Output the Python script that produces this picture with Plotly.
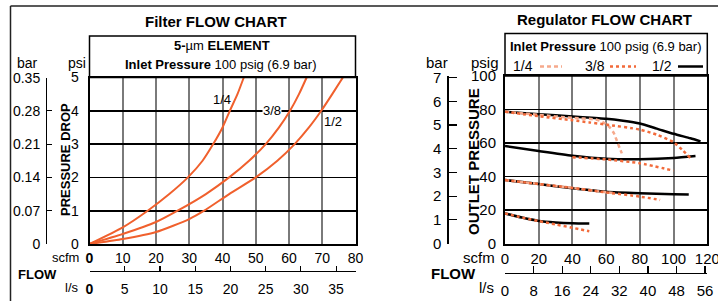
import plotly.graph_objects as go

W, H = 718, 301

# ---------------- DATA ----------------
# Filter flow chart (scfm vs psi pressure drop)
filter_flow_14 = [0, 10, 17.5, 24, 29.6, 34, 37.2, 40, 42.2, 44.5, 46.4]
filter_dp_14 = [0, 0.5, 1, 1.5, 2, 2.5, 3, 3.5, 4, 4.5, 5]
filter_flow_38 = [0, 10, 20, 26.5, 35, 42, 48, 53, 57, 60.3, 63, 65.3]
filter_dp_38 = [0, 0.3, 0.66, 1, 1.5, 2, 2.5, 3, 3.5, 4, 4.5, 5]
filter_flow_12 = [0, 10, 20, 30, 34.5, 42, 50, 56.5, 61.7, 66, 69.7, 73, 76.2]
filter_dp_12 = [0, 0.15, 0.36, 0.75, 1, 1.5, 2, 2.5, 3, 3.5, 4, 4.5, 5]
filter_labels = ["1/4", "3/8", "1/2"]
filter_label_pos = [(39.8, 4.35), (55, 4.0), (73.1, 3.67)]

# Regulator flow chart (scfm vs outlet psig)
reg12_a_flow = [0, 20, 40, 60, 70, 80, 90, 100, 110, 116]
reg12_a_psig = [78.7, 77.2, 75.8, 74.5, 73.3, 71.6, 68.6, 65.5, 62.8, 61]
reg12_b_flow = [0, 20, 40, 60, 80, 100, 113]
reg12_b_psig = [58.2, 55.2, 52.4, 50.6, 50.3, 51.0, 52.2]
reg12_c_flow = [0, 20, 40, 60, 80, 100, 109]
reg12_c_psig = [37.9, 35.5, 33.0, 30.9, 30.0, 29.4, 29.2]
reg12_d_flow = [0, 10, 20, 30, 40, 50]
reg12_d_psig = [18.0, 15.5, 13.5, 12.6, 12.1, 11.9]

reg38_a_flow = [0, 20, 40, 50, 60, 80, 90, 100, 105, 110]
reg38_a_psig = [78.7, 76.0, 73.6, 72.3, 71.0, 68.0, 65.0, 60.5, 56.0, 51.0]
reg38_b_flow = [40, 60, 80, 100]
reg38_b_psig = [51.5, 50.2, 47.9, 43.5]
reg38_c_flow = [0, 20, 40, 60, 80, 92]
reg38_c_psig = [37.9, 35.5, 33.2, 30.5, 28.0, 26.0]
reg38_d_flow = [0, 10, 20, 30, 40, 50]
reg38_d_psig = [18.0, 15.5, 13.4, 11.4, 9.4, 7.3]

reg14_a_flow = [0, 20, 40, 54, 58, 62, 64.5, 66.3, 68, 69.3]
reg14_a_psig = [78.7, 76.8, 75.0, 74.0, 72.5, 69.5, 66.0, 61.5, 57.0, 53.8]
reg14_c_flow = [0, 20, 40, 60, 66]
reg14_c_psig = [37.9, 35.5, 33.2, 30.6, 29.9]

left_scfm_ticks = [0, 10, 20, 30, 40, 50, 60, 70, 80]
left_ls_ticks = [0, 5, 10, 15, 20, 25, 30, 35]
left_psi_ticks = [0, 1, 2, 3, 4, 5]
left_bar_ticks = [0, 0.07, 0.14, 0.21, 0.28, 0.35]
left_bar_text = ["0", "0.07", "0.14", "0.21", "0.28", "0.35"]
right_scfm_ticks = [0, 20, 40, 60, 80, 100, 120]
right_ls_ticks = [0, 8, 16, 24, 32, 40, 48, 56]
right_psig_ticks = [0, 20, 40, 60, 80, 100]
right_bar_ticks = [0, 1, 2, 3, 4, 5, 6, 7]
SCFM_TO_LS = 0.4719

# ---------------- HELPERS ----------------
def fx(p):
    return p / W

def fy(p):
    return 1 - p / H

FONT = "Liberation Sans, Arial, Helvetica, sans-serif"
ORANGE = "#f0602d"
DOT = "#f26a3a"
SALMON = "#f6a98c"

fig = go.Figure()

# Filter curves
for fl, dp in [(filter_flow_14, filter_dp_14), (filter_flow_38, filter_dp_38),
               (filter_flow_12, filter_dp_12)]:
    fig.add_trace(go.Scatter(x=fl, y=dp, mode="lines", xaxis="x", yaxis="y",
                             line=dict(color=ORANGE, width=2, shape="spline", smoothing=0.6),
                             showlegend=False, hoverinfo="skip"))

# Regulator curves: solid 1/2
for fl, ps in [(reg12_a_flow, reg12_a_psig), (reg12_b_flow, reg12_b_psig),
               (reg12_c_flow, reg12_c_psig), (reg12_d_flow, reg12_d_psig)]:
    fig.add_trace(go.Scatter(x=fl, y=ps, mode="lines", xaxis="x2", yaxis="y2",
                             line=dict(color="black", width=2.5, shape="spline", smoothing=0.6),
                             showlegend=False, hoverinfo="skip"))
# dashed 1/4
for fl, ps in [(reg14_a_flow, reg14_a_psig), (reg14_c_flow, reg14_c_psig)]:
    fig.add_trace(go.Scatter(x=fl, y=ps, mode="lines", xaxis="x2", yaxis="y2",
                             line=dict(color=SALMON, width=2.5, dash="4px,3px", shape="spline", smoothing=0.6),
                             showlegend=False, hoverinfo="skip"))
# dotted 3/8
for fl, ps in [(reg38_a_flow, reg38_a_psig), (reg38_b_flow, reg38_b_psig),
               (reg38_c_flow, reg38_c_psig), (reg38_d_flow, reg38_d_psig)]:
    fig.add_trace(go.Scatter(x=fl, y=ps, mode="lines", xaxis="x2", yaxis="y2",
                             line=dict(color=DOT, width=2.5, dash="dot", shape="spline", smoothing=0.6),
                             showlegend=False, hoverinfo="skip"))

# dummy traces so secondary axes render
for xa, ya in [("x3", "y"), ("x", "y3"), ("x4", "y2"), ("x2", "y4")]:
    fig.add_trace(go.Scatter(x=[None], y=[None], xaxis=xa, yaxis=ya, mode="lines",
                             showlegend=False, hoverinfo="skip"))

tickf = dict(family=FONT, size=14, color="black")
tickf_r = dict(family=FONT, size=15, color="black")

common_grid = dict(showline=True, linecolor="black", linewidth=2, mirror=True,
                   zeroline=False, ticks="", fixedrange=True, ticklabeloverflow="allow")
sec = dict(showline=True, linecolor="black", linewidth=1.2, showgrid=False,
           zeroline=False, fixedrange=True, tickcolor="black", tickwidth=1.2,
           ticks="inside", ticklabeloverflow="allow")

fig.update_layout(
    width=W, height=H, margin=dict(l=0, r=0, t=0, b=0, autoexpand=False),
    paper_bgcolor="white", plot_bgcolor="white", showlegend=False,
    font=dict(family=FONT, color="black"),
    xaxis=dict(domain=[fx(89.5), fx(355.5)], range=[0, 80], anchor="y",
               tickvals=left_scfm_ticks,
               ticktext=["<b>0</b>"] + [str(v) for v in left_scfm_ticks[1:]],
               showgrid=True, gridcolor="#7a7a7a", gridwidth=2,
               tickfont=tickf, ticklabelstandoff=0, **common_grid),
    yaxis=dict(domain=[fy(244), fy(77.5)], range=[0, 5], anchor="x",
               tickvals=left_psi_ticks, showgrid=True, gridcolor="black", gridwidth=1.8,
               tickfont=tickf, ticklabelstandoff=6, **common_grid),
    xaxis3=dict(overlaying="x", anchor="free", position=fy(270.7), side="bottom",
                range=[0, 80 * SCFM_TO_LS], tickvals=left_ls_ticks,
                ticktext=["<b>0</b>"] + [str(v) for v in left_ls_ticks[1:]],
                ticklen=5, tickfont=tickf, ticklabelstandoff=5, **sec),
    yaxis3=dict(overlaying="y", anchor="free", position=fx(46), side="left",
                range=[0, 0.3502], tickvals=left_bar_ticks, ticktext=left_bar_text,
                ticklen=5, tickfont=tickf, ticklabelstandoff=3, **sec),
    xaxis2=dict(domain=[fx(505), fx(707.3)], range=[0, 120], anchor="y2",
                tickvals=right_scfm_ticks, showgrid=True, gridcolor="#7a7a7a", gridwidth=2,
                tickfont=tickf_r, ticklabelstandoff=0, **common_grid),
    yaxis2=dict(domain=[fy(243.5), fy(76)], range=[0, 100], anchor="x2",
                tickvals=right_psig_ticks, showgrid=True, gridcolor="black", gridwidth=1.5,
                tickfont=tickf_r, ticklabelstandoff=4, **common_grid),
    xaxis4=dict(overlaying="x2", anchor="free", position=fy(272.5), side="bottom",
                range=[0, 120 * SCFM_TO_LS], tickvals=right_ls_ticks,
                ticklen=7, tickfont=tickf_r, ticklabelstandoff=4, **sec),
    yaxis4=dict(overlaying="y2", anchor="free", position=fx(447.3), side="left",
                range=[0, 7.07], tickvals=right_bar_ticks,
                ticklen=8, tickfont=tickf_r, ticklabelstandoff=3, **sec),
)

shapes = []
# outer frame
shapes.append(dict(type="line", xref="paper", yref="paper", x0=fx(10.5), x1=fx(10.5),
                   y0=fy(6), y1=fy(301), line=dict(color="#222", width=1.5)))
shapes.append(dict(type="line", xref="paper", yref="paper", x0=fx(10.5), x1=1,
                   y0=fy(6), y1=fy(6), line=dict(color="#222", width=1.5)))
# header boxes
shapes.append(dict(type="rect", xref="paper", yref="paper", x0=fx(89.5), x1=fx(355.5),
                   y0=fy(77.5), y1=fy(36), line=dict(color="black", width=1.5)))
shapes.append(dict(type="rect", xref="paper", yref="paper", x0=fx(505), x1=fx(707.3),
                   y0=fy(76), y1=fy(33.5), line=dict(color="black", width=1.5)))
# legend keys (right chart)
shapes.append(dict(type="line", xref="paper", yref="paper", x0=fx(540), x1=fx(562),
                   y0=fy(66.5), y1=fy(66.5), line=dict(color=SALMON, width=2.5, dash="4px,3px")))
shapes.append(dict(type="line", xref="paper", yref="paper", x0=fx(610), x1=fx(636),
                   y0=fy(66.5), y1=fy(66.5), line=dict(color=DOT, width=2.5, dash="dot")))
shapes.append(dict(type="line", xref="paper", yref="paper", x0=fx(678), x1=fx(703),
                   y0=fy(66.5), y1=fy(66.5), line=dict(color="black", width=2.5)))
fig.update_layout(shapes=shapes)

ann = []
def txt(x, y, s, size, xanchor="center", angle=0):
    ann.append(dict(xref="paper", yref="paper", x=fx(x), y=fy(y), text=s, showarrow=False,
                    xanchor=xanchor, yanchor="middle", textangle=angle,
                    font=dict(family=FONT, size=size, color="black")))

# left chart texts
txt(216, 21.5, "<b>Filter FLOW CHART</b>", 15)
txt(222, 45.5, "<b>5-</b>µm <b>ELEMENT</b>", 13)
txt(221, 64, "<b>Inlet Pressure</b> 100 psig (6.9 bar)", 13)
txt(27, 63, "bar", 14)
txt(77, 63, "psi", 14)
txt(65, 160, "<b>PRESSURE DROP</b>", 13, angle=-90)
txt(81, 257, "scfm", 13, xanchor="right")
txt(81, 287, "l/s", 13, xanchor="right")
txt(37, 274, "<b>FLOW</b>", 13)

# right chart texts
txt(604, 19.5, "<b>Regulator FLOW CHART</b>", 15)
txt(606, 46, "<b>Inlet Pressure</b> 100 psig (6.9 bar)", 13)
txt(523, 66.5, "1/4", 14)
txt(594.5, 66.5, "3/8", 14)
txt(661.5, 66.5, "1/2", 14)
txt(437, 62, "bar", 15)
txt(485, 62, "psig", 15)
txt(473.5, 161.5, "<b>OUTLET PRESSURE</b>", 15, angle=-90)
txt(497, 257.3, "scfm", 15, xanchor="right")
txt(496, 287.3, "l/s", 15, xanchor="right")
txt(453, 273.5, "<b>FLOW</b>", 15)

# filter curve labels
for lab, (lx, ly) in zip(filter_labels, filter_label_pos):
    ann.append(dict(xref="x", yref="y", x=lx, y=ly, text=lab, showarrow=False,
                    bgcolor="white" if lab == "3/8" else None, borderpad=0,
                    font=dict(family=FONT, size=13, color="black")))

fig.update_layout(annotations=ann)
fig.write_html("out.html", config={"displayModeBar": False, "staticPlot": True},
               post_script="document.body.style.margin='0';document.body.style.overflow='hidden';")
